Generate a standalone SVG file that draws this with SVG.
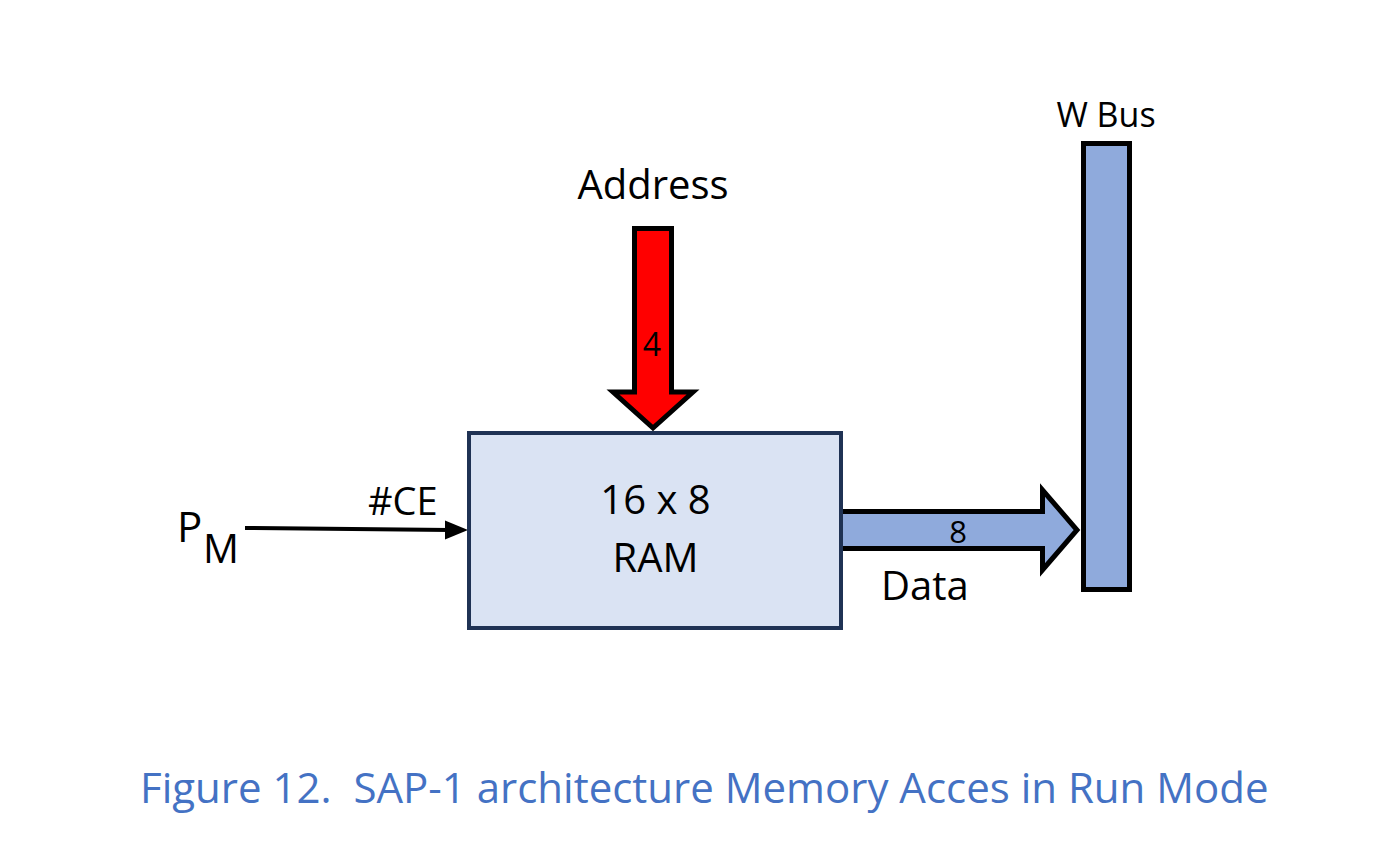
<svg xmlns="http://www.w3.org/2000/svg" width="1395" height="864" viewBox="0 0 1395 864">
<style>
text { font-family: "Open Sans", "Noto Sans", "Liberation Sans", sans-serif; fill: #000; }
.ram { fill: #DAE3F3; stroke: #1F3254; stroke-width: 4; }
.bus { fill: #8FAADC; stroke: #000; stroke-width: 5; stroke-linejoin: miter; }
.addr { fill: #FF0000; stroke: #000; stroke-width: 5; stroke-linejoin: miter; }
.wire { stroke: #000; stroke-width: 4; fill: none; }
.cap { fill: #4472C4; }
</style>
<rect width="1395" height="864" fill="#FFFFFF"/>
<g id="connectors">
  <g id="address-arrow">
    <polygon class="addr" points="634.5,228.5 671.5,228.5 671.5,392 693,392 653,428 613,392 634.5,392"/>
    <text x="652" y="356" font-size="32" text-anchor="middle">4</text>
  </g>
  <g id="data-arrow">
    <polygon class="bus" points="840,511.5 1042.5,511.5 1042.5,490 1077,530 1042.5,570 1042.5,548.5 840,548.5"/>
    <text x="958" y="543" font-size="31" text-anchor="middle">8</text>
  </g>
  <g id="ce-arrow">
    <line class="wire" x1="245" y1="528" x2="450" y2="530"/>
    <polygon points="445,520.5 468,530 445,539.5" fill="#000"/>
  </g>
</g>
<g id="ram">
  <rect class="ram" x="469" y="433" width="372" height="195"/>
  <text x="655.5" y="514" font-size="40" text-anchor="middle">16 x 8</text>
  <text x="655.5" y="572" font-size="40" text-anchor="middle">RAM</text>
</g>
<g id="wbus">
  <rect class="bus" x="1083.5" y="143.5" width="46" height="446"/>
  <text x="1106" y="127" font-size="34" text-anchor="middle">W Bus</text>
</g>
<g id="labels">
  <text x="653" y="199" font-size="40" text-anchor="middle">Address</text>
  <text x="881" y="600" font-size="40">Data</text>
  <text x="368" y="515" font-size="38">#CE</text>
  <text x="177" y="542" font-size="42">P</text>
  <text x="203" y="563" font-size="40">M</text>
</g>
<g id="caption">
  <text class="cap" x="140" y="803" font-size="42" xml:space="preserve">Figure 12.  SAP-1 architecture Memory Acces in Run Mode</text>
</g>
</svg>
